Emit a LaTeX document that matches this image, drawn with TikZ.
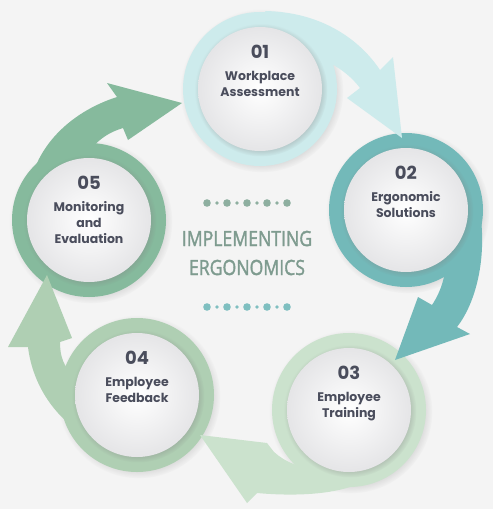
\documentclass[tikz,border=0pt]{standalone}
\usepackage{fontspec}
\setmainfont{Poppins}
\newfontfamily\titlefont[FakeStretch=0.84,FakeBold=1.6]{Open Sans}
\usetikzlibrary{shadows,positioning}
\definecolor{bgcol}{HTML}{F4F4F4}
\definecolor{txtcol}{HTML}{4A4D5C}
\definecolor{facegrey}{HTML}{E5E5E7}
\definecolor{ringA}{HTML}{CDEBEC}
\definecolor{ringB}{HTML}{73B9B9}
\definecolor{ringC}{HTML}{CBE2CD}
\definecolor{ringD}{HTML}{AFCFB3}
\definecolor{ringE}{HTML}{86BA9D}
\definecolor{titlecol}{HTML}{7E9B8F}
\definecolor{dotA}{HTML}{8EAFA0}
\definecolor{dotB}{HTML}{7FBFC0}
\newcommand{\numsize}{\fontsize{18}{20}\selectfont}
\tikzset{ring/.style={circle,fill=#1,minimum size=154pt,inner sep=0pt,circular drop shadow={shadow scale=1.06,opacity=0.3}}}
\tikzset{face/.style={circle,minimum size=124pt,inner sep=0pt,inner color=white,outer color=facegrey,circular drop shadow={shadow xshift=1pt,shadow yshift=-1pt,shadow scale=1.07,opacity=0.45}}}
\tikzset{steptext/.style={align=center,inner sep=0pt,text=txtcol,font=\fontsize{12.5}{16}\selectfont\bfseries}}

\begin{document}
\begin{tikzpicture}[x=1pt,y=-1pt]
        \useasboundingbox (0,0) rectangle (493,509);
        \fill[bgcol] (0,0) rectangle (493,509);

        \node[ring=ringA] (r1) at (260,89) {};
        \node[ring=ringB] (r2) at (406,210) {};
        \node[ring=ringC] (r3) at (349,410) {};
        \node[ring=ringD] (r4) at (137,395) {};
        \node[ring=ringE] (r5) at (89,220) {};

        \fill[ringA] (265,11) .. controls (322,12) and (360,40) .. (380,70) -- (393,57) -- (402,138) -- (347,98) -- (360,88) .. controls (345,68) and (320,55) .. (290,50) -- cycle;
        \fill[ringB] (470,175) .. controls (492,230) and (482,295) .. (457,327) -- (470,334) -- (395,360) -- (418,297) -- (432,305) .. controls (442,290) and (448,270) .. (445,250) -- cycle;
        \fill[ringC] (320,470) .. controls (300,468) and (285,462) .. (274,452) -- (267,443) -- (200,435) -- (247,503) -- (257,493) .. controls (290,496) and (325,495) .. (350,487) -- cycle;
        \fill[ringD] (80,432) .. controls (50,412) and (32,380) .. (28,347) -- (8,347) -- (47,275) -- (72,338) -- (60,342) .. controls (60,356) and (63,366) .. (75,378) -- cycle;
        \fill[ringE] (28,205) .. controls (28,150) and (70,112) .. (117,97) -- (107,83) -- (182,103) -- (128,140) -- (123,128) .. controls (110,132) and (100,138) .. (90,150) -- cycle;

        \node[face] (c1) at (r1) {};
        \node[face] (c2) at (r2) {};
        \node[face] (c3) at (r3) {};
        \node[face] (c4) at (r4) {};
        \node[face] (c5) at (r5) {};

        \node[steptext,below=18pt of c1.north] (t1) {{\numsize 01}\\[6pt]Workplace\\Assessment};
        \node[steptext,below=18pt of c2.north] (t2) {{\numsize 02}\\[6pt]Ergonomic\\Solutions};
        \node[steptext,below=18pt of c3.north] (t3) {{\numsize 03}\\[6pt]Employee\\Training};
        \node[steptext,below=18pt of c4.north] (t4) {{\numsize 04}\\[6pt]Employee\\Feedback};
        \node[steptext,below=18pt of c5.north] (t5) {{\numsize 05}\\[6pt]Monitoring\\and\\Evaluation};

        \node[align=center,text=titlecol,font=\titlefont\fontsize{21}{29}\selectfont] (title) at (247,253) {IMPLEMENTING\\ERGONOMICS};

        \foreach \k in {0,...,4} {
            \fill[dotA] ({207+20*\k},203) circle (3.8pt);
            \fill[dotB] ({207+20*\k},307) circle (3.8pt);
        }
        \foreach \k in {0,...,3} {
            \fill[dotA] ({217+20*\k},203) circle (1.8pt);
            \fill[dotB] ({217+20*\k},307) circle (1.8pt);
        }
    \end{tikzpicture}
\end{document}
